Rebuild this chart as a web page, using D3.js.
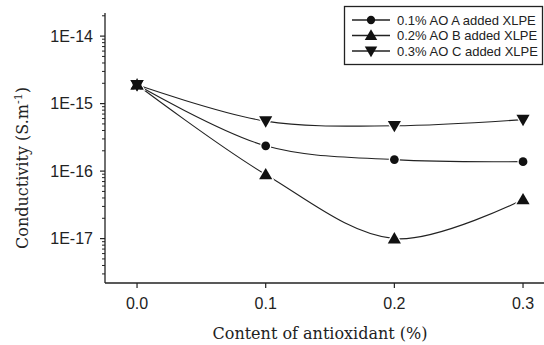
<!DOCTYPE html>
<html><head><meta charset="utf-8">
<script src="https://cdn.jsdelivr.net/npm/d3@7"></script>
<style>body{margin:0;background:#fff}svg{display:block}</style>
</head><body>
<svg id="c" width="544" height="345"></svg>
<script>
const xValues = [0.0, 0.1, 0.2, 0.3];
const seriesNames = ["0.1% AO A added XLPE", "0.2% AO B added XLPE", "0.3% AO C added XLPE"];
const seriesA = [1.9e-15, 2.37e-16, 1.48e-16, 1.38e-16];
const seriesB = [1.9e-15, 8.9e-17, 1.0e-17, 3.8e-17];
const seriesC = [1.9e-15, 5.5e-16, 4.7e-16, 5.8e-16];
const xTicks = [0.0, 0.1, 0.2, 0.3];
const yTicks = [1e-14, 1e-15, 1e-16, 1e-17];
const yTickLabels = ["1E-14", "1E-15", "1E-16", "1E-17"];

(function () {
const svg = d3.select("#c");
const pL = 105, pR = 544, pT = 13, pB = 283;
const x = d3.scaleLinear().domain([-0.0249, 0.3163]).range([pL, pR]);
const y = d3.scaleLog().domain([2.2e-18, 2.2e-14]).range([pB, pT]);
const ink = "#222";

// Y axis
const yAxis = svg.append("g").attr("transform", `translate(${pL},0)`);
yAxis.append("line").attr("y1", pT).attr("y2", pB).attr("stroke", ink).attr("stroke-width", 1.3);
const minor = [];
for (let e = -18; e <= -14; e++) for (let m = 2; m <= 9; m++) {
  const v = m * Math.pow(10, e);
  if (v >= 2.2e-18 && v <= 2.2e-14) minor.push(v);
}
yAxis.selectAll(".mn").data(minor).join("line")
  .attr("x1", -3).attr("x2", 0).attr("y1", d => y(d)).attr("y2", d => y(d))
  .attr("stroke", ink).attr("stroke-width", 1);
yAxis.selectAll(".mj").data(yTicks).join("line")
  .attr("x1", -5).attr("x2", 0).attr("y1", d => y(d)).attr("y2", d => y(d))
  .attr("stroke", ink).attr("stroke-width", 1.2);
yAxis.selectAll(".lb").data(yTicks).join("text")
  .attr("x", -12).attr("y", d => y(d)).attr("dy", "0.36em")
  .attr("text-anchor", "end").attr("font-family", "Liberation Sans, Arial, sans-serif")
  .attr("font-size", 16).attr("fill", ink)
  .text((d, i) => yTickLabels[i]);

// X axis
const xAxis = svg.append("g").attr("transform", `translate(0,${pB})`);
xAxis.append("line").attr("x1", pL).attr("x2", pR).attr("stroke", ink).attr("stroke-width", 1.3);
xAxis.selectAll(".t").data(xTicks).join("line")
  .attr("x1", d => x(d)).attr("x2", d => x(d)).attr("y1", 0).attr("y2", 5)
  .attr("stroke", ink).attr("stroke-width", 1.2);
xAxis.selectAll(".l").data(xTicks).join("text")
  .attr("x", d => x(d)).attr("y", 20).attr("dy", "0.36em")
  .attr("text-anchor", "middle").attr("font-family", "Liberation Sans, Arial, sans-serif")
  .attr("font-size", 16).attr("fill", ink)
  .text(d => d.toFixed(1));

// Axis titles
svg.append("text").attr("x", 320).attr("y", 339)
  .attr("text-anchor", "middle").attr("font-family", "DejaVu Serif, Liberation Serif, serif")
  .attr("font-size", 16).attr("fill", ink).text("Content of antioxidant (%)");
const yt = svg.append("text").attr("transform", "translate(28,168) rotate(-90)")
  .attr("text-anchor", "middle").attr("font-family", "DejaVu Serif, Liberation Serif, serif")
  .attr("font-size", 16).attr("fill", ink);
yt.append("tspan").text("Conductivity (S.m");
yt.append("tspan").attr("font-size", 11).attr("dy", -6).text("-1");
yt.append("tspan").attr("dy", 6).text(")");

// Series
const series = [
  {name: seriesNames[0], vals: seriesA, sym: d3.symbolCircle, size: 60, rot: 0},
  {name: seriesNames[1], vals: seriesB, sym: d3.symbolTriangle, size: 75, rot: 0},
  {name: seriesNames[2], vals: seriesC, sym: d3.symbolTriangle, size: 75, rot: 180}
];
const off = s => (s.sym === d3.symbolTriangle ? (s.rot ? -1 : 1) : 0);
const line = d3.line().x(d => x(d[0])).y(d => y(d[1])).curve(d3.curveCatmullRom.alpha(0.5));
series.forEach(s => {
  svg.append("path").datum(xValues.map((v, i) => [v, s.vals[i]]))
    .attr("d", line).attr("fill", "none").attr("stroke", ink).attr("stroke-width", 1.1);
});
series.forEach(s => {
  svg.selectAll(null).data(xValues.map((v, i) => [v, s.vals[i]])).join("path")
    .attr("d", d3.symbol(s.sym, s.size))
    .attr("transform", d => `translate(${x(d[0])},${y(d[1]) + off(s)}) rotate(${s.rot})`)
    .attr("fill", "#111").attr("stroke", "#fff").attr("stroke-width", 2.5).attr("paint-order", "stroke");
});
series.forEach(s => {
  svg.append("path").attr("d", d3.symbol(s.sym, s.size))
    .attr("transform", `translate(${x(xValues[0])},${y(s.vals[0]) + off(s)}) rotate(${s.rot})`)
    .attr("fill", "#111");
});

// Legend
const lg = svg.append("g");
lg.append("rect").attr("x", 344.5).attr("y", 6.5).attr("width", 198).attr("height", 58)
  .attr("fill", "#fff").attr("stroke", ink).attr("stroke-width", 1.3);
series.forEach((s, i) => {
  const yy = 20 + i * 15.5;
  lg.append("line").attr("x1", 352).attr("x2", 390).attr("y1", yy).attr("y2", yy)
    .attr("stroke", ink).attr("stroke-width", 1.3);
  lg.append("path").attr("d", d3.symbol(s.sym, s.size * 0.9))
    .attr("transform", `translate(371,${yy + off(s)}) rotate(${s.rot})`)
    .attr("fill", "#111");
  lg.append("text").attr("x", 397).attr("y", yy).attr("dy", "0.36em")
    .attr("font-family", "Liberation Sans, Arial, sans-serif").attr("font-size", 13)
    .attr("fill", ink).text(s.name);
});
})();
</script>
</body></html>
